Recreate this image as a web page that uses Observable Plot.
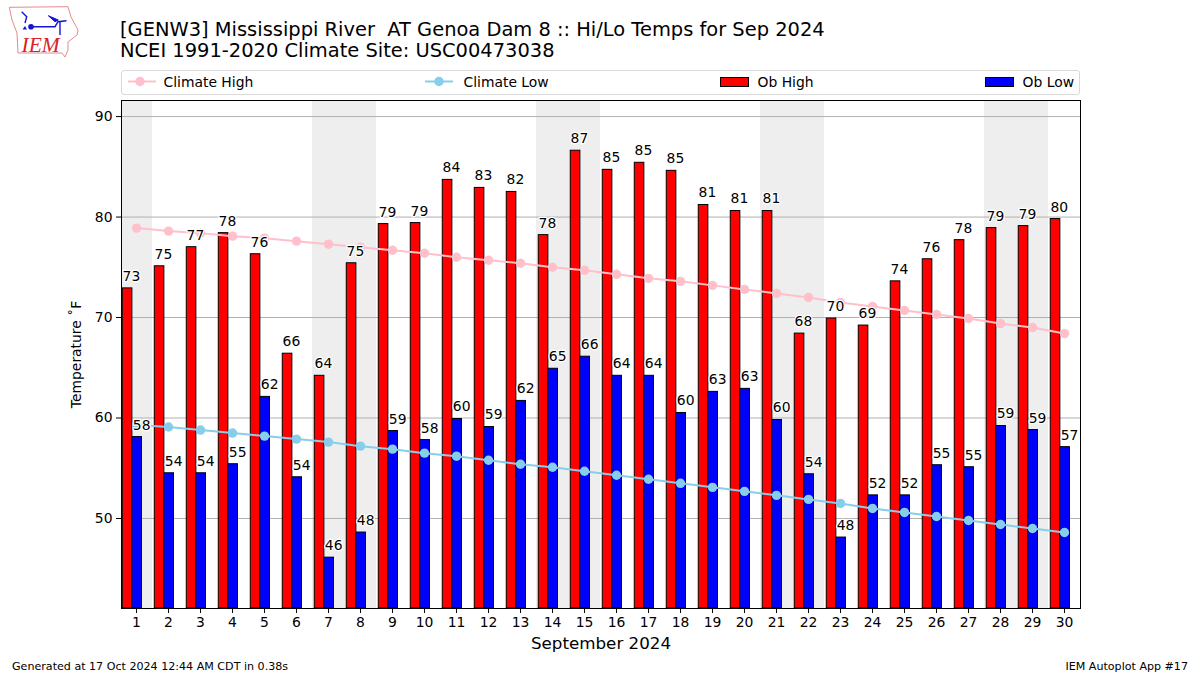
<!DOCTYPE html>
<html>
<head>
<meta charset="utf-8">
<script src="https://cdn.jsdelivr.net/npm/d3@7"></script>
<script src="https://cdn.jsdelivr.net/npm/@observablehq/plot@0.6"></script>
<style>
html,body{margin:0;padding:0;background:#fff;}
#page{position:relative;width:1200px;height:675px;overflow:hidden;font-family:"DejaVu Sans",sans-serif;color:#000;}
#page>*{position:absolute;}
#title{left:120px;top:18.5px;font-size:19.45px;line-height:21.5px;white-space:pre;}
#legend{left:120.5px;top:70px;width:959px;height:25px;border:1px solid #d9d9d9;border-radius:3px;box-sizing:border-box;}
#legend>*{position:absolute;}
.lt{font-size:13.9px;line-height:16px;top:2.5px;white-space:pre;}
.foot{font-size:11.1px;line-height:13px;top:660px;white-space:pre;}
#plot{left:0;top:100px;}
</style>
</head>
<body>
<div id="page">
<svg id="logo" style="left:8px;top:5px" width="72" height="54" viewBox="8 5 72 54">
<path d="M9.3 7.3L68 6.7L71 17L78 30L77 35L68 42L68 50L65 57L62 53L18 53L17 33L12 20Z" fill="none" stroke="#e58a8f" stroke-width="1"/>
<path d="M31 26.7L55 26.7L58 21.7L66.5 20.7M60 21.7L60 35M21.7 11.7L26.7 16.7L25 23" fill="none" stroke="#1414d8" stroke-width="1.4"/>
<path d="M48.3 15.7L58.3 20L55 21.7Z" fill="#1414d8" stroke="#1414d8"/>
<path d="M22.5 29.5L25 26L27 29.5Z" fill="#1414d8"/>
<circle cx="31" cy="26.7" r="2.8" fill="#1414d8"/>
<text x="21.5" y="52" fill="#d8232a" font-family="Liberation Serif" font-style="italic" font-size="21.5">IEM</text>
</svg>
<div id="title">[GENW3] Mississippi River  AT Genoa Dam 8 :: Hi/Lo Temps for Sep 2024
NCEI 1991-2020 Climate Site: USC00473038</div>
<div id="legend">
<svg style="left:0;top:0" width="957" height="23">
<line x1="6" x2="34" y1="10.5" y2="10.5" stroke="#ffc0cb" stroke-width="2"/><circle cx="18" cy="10.5" r="4.7" fill="#ffc0cb"/>
<line x1="303" x2="331" y1="10.5" y2="10.5" stroke="#87ceeb" stroke-width="2"/><circle cx="317" cy="10.5" r="4.7" fill="#87ceeb"/>
<rect x="598.5" y="6.5" width="28" height="9" fill="#ff0000" stroke="#000"/>
<rect x="863.5" y="6.5" width="28" height="9" fill="#0000ff" stroke="#000"/>
</svg>
<span class="lt" style="left:42px">Climate High</span>
<span class="lt" style="left:342px">Climate Low</span>
<span class="lt" style="left:636px">Ob High</span>
<span class="lt" style="left:901px">Ob Low</span>
</div>
<div id="plot"></div>
<div class="foot" style="left:12px">Generated at 17 Oct 2024 12:44 AM CDT in 0.38s</div>
<div class="foot" style="right:12px">IEM Autoplot App #17</div>
</div>
<script>
const days = d3.range(1, 31);
const climateHigh = [78.9,78.6,78.4,78.1,77.9,77.6,77.3,77.0,76.7,76.4,76.0,75.7,75.4,75.0,74.7,74.3,73.9,73.6,73.2,72.8,72.4,72.0,71.5,71.1,70.7,70.3,69.9,69.4,69.0,68.4];
const climateLow = [59.3,59.1,58.8,58.5,58.2,57.9,57.6,57.2,56.9,56.5,56.2,55.8,55.4,55.1,54.7,54.3,53.9,53.5,53.1,52.7,52.3,51.9,51.5,51.0,50.6,50.2,49.8,49.4,49.0,48.6];
const obHigh = [72.9,75.1,77.0,78.4,76.3,66.4,64.2,75.4,79.3,79.4,83.7,82.9,82.5,78.2,86.6,84.7,85.4,84.6,81.2,80.6,80.6,68.4,69.9,69.2,73.6,75.8,77.7,78.9,79.1,79.8];
const obLow = [58.1,54.5,54.5,55.4,62.1,54.1,46.1,48.6,58.7,57.8,59.9,59.1,61.7,64.9,66.1,64.2,64.2,60.5,62.6,62.9,59.8,54.4,48.1,52.3,52.3,55.3,55.1,59.2,58.8,57.1];
const obHighLabels = [73,75,77,78,76,66,64,75,79,79,84,83,82,78,87,85,85,85,81,81,81,68,70,69,74,76,78,79,79,80];
const obLowLabels = [58,54,54,55,62,54,46,48,59,58,60,59,62,65,66,64,64,60,63,63,60,54,48,52,52,55,55,59,59,57];
const weekends = [[0.53,1.5],[6.5,8.5],[13.5,15.5],[20.5,22.5],[27.5,29.5]];
const yTicks = [50,60,70,80,90];
const yMin = 41.04, yMax = 91.6;

const rows = days.map((d, i) => ({day: d, ch: climateHigh[i], cl: climateLow[i], hi: obHigh[i], lo: obLow[i], hl: obHighLabels[i], ll: obLowLabels[i]}));

const chart = Plot.plot({
  width: 1200,
  height: 575,
  marginLeft: 121,
  marginRight: 120,
  marginTop: 0,
  marginBottom: 67,
  style: {fontFamily: '"DejaVu Sans", sans-serif', fontSize: "13.9px", color: "#000", background: "transparent", overflow: "visible"},
  x: {domain: [0.53, 30.5]},
  y: {domain: [yMin, yMax]},
  marks: [
    Plot.rect(weekends, {x1: d => d[0], x2: d => d[1], y1: yMin, y2: yMax, fill: "#eeeeee"}),
    Plot.ruleY(yTicks, {stroke: "#b0b0b0", strokeWidth: 1}),
    Plot.rect(rows, {x1: d => d.day - 0.43, x2: d => d.day - 0.13, y1: yMin, y2: "hi", fill: "#ff0000", stroke: "#000", strokeWidth: 1}),
    Plot.rect(rows, {x1: d => d.day - 0.13, x2: d => d.day + 0.17, y1: yMin, y2: "lo", fill: "#0000ff", stroke: "#000", strokeWidth: 1}),
    Plot.line(rows, {x: "day", y: "ch", stroke: "#ffc0cb", strokeWidth: 2}),
    Plot.dot(rows, {x: "day", y: "ch", r: 4.7, fill: "#ffc0cb"}),
    Plot.line(rows, {x: "day", y: "cl", stroke: "#87ceeb", strokeWidth: 2}),
    Plot.dot(rows, {x: "day", y: "cl", r: 4.7, fill: "#87ceeb"}),
    Plot.text(rows, {x: d => d.day - 0.16, y: "hi", text: "hl", dy: -12, fill: "#000", stroke: "#fff", strokeWidth: 2.5, fontSize: 13.9}),
    Plot.text(rows, {x: d => d.day + 0.16, y: "lo", text: "ll", dy: -12, fill: "#000", stroke: "#fff", strokeWidth: 2.5, fontSize: 13.9}),
    Plot.frame({stroke: "#000", strokeWidth: 1}),
    Plot.axisX({ticks: days, tickFormat: d => d, tickSize: 5, tickPadding: 4, fontSize: 13.9, label: null}),
    Plot.axisY({ticks: yTicks, tickSize: 5, tickPadding: 4, fontSize: 13.9, label: null}),
    Plot.text(["September 2024"], {frameAnchor: "bottom", dy: 40, fontSize: 16.7, fill: "#000"}),
    Plot.text(["Temperature ˚F"], {frameAnchor: "left", dx: -45, rotate: -90, textAnchor: "middle", fontSize: 13.9, fill: "#000"})
  ]
});
document.getElementById("plot").appendChild(chart);
</script>
</body>
</html>
